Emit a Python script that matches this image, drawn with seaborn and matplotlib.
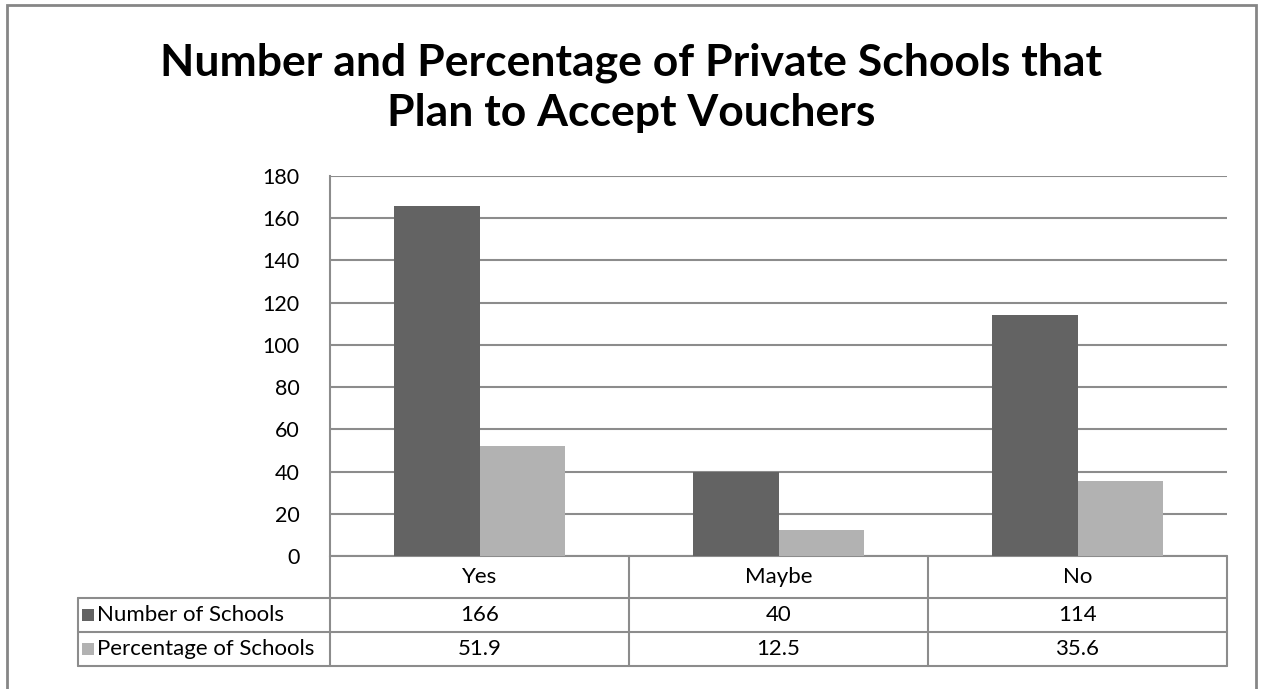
import pandas as pd
import matplotlib.pyplot as plt
import seaborn as sns
from matplotlib.patches import Rectangle

# Chart data
categories = ['Yes', 'Maybe', 'No']
series_names = ['Number of Schools', 'Percentage of Schools']
number_of_schools = [166, 40, 114]
percentage_of_schools = [51.9, 12.5, 35.6]
y_ticks = [0, 20, 40, 60, 80, 100, 120, 140, 160, 180]

colors = {'Number of Schools': '#636363', 'Percentage of Schools': '#b2b2b2'}
line_col = '#8c8c8c'

df = pd.DataFrame({
    'Category': categories * 2,
    'Series': [series_names[0]] * 3 + [series_names[1]] * 3,
    'Value': number_of_schools + percentage_of_schools,
})

sns.set_style('white')
plt.rcParams['font.family'] = ['Lato', 'DejaVu Sans']
plt.rcParams['text.color'] = 'black'

fig = plt.figure(figsize=(12.62, 6.89), dpi=100)
ax = fig.add_axes([330 / 1262, 1 - 556 / 689, 897 / 1262, 380 / 689])

sns.barplot(data=df, x='Category', y='Value', hue='Series', order=categories,
            hue_order=series_names, palette=colors, width=0.57, saturation=1,
            linewidth=0, ax=ax, legend=False, zorder=3)

ax.set_xlim(-0.5, 2.5)
ax.set_ylim(0, 180)
ax.set_yticks(y_ticks)
ax.tick_params(axis='y', length=0, labelsize=15.5, pad=22, labelcolor='black')
ax.set_xticks([])
ax.set_xlabel('')
ax.set_ylabel('')
ax.yaxis.grid(True, color=line_col, linewidth=1.5, zorder=0)
for s in ['top', 'right', 'bottom']:
    ax.spines[s].set_visible(False)
ax.spines['left'].set_color(line_col)
ax.spines['left'].set_linewidth(1.5)

# Data table under the plot (x in category units, y in axes fraction)
trans = ax.get_xaxis_transform()
left_x = -1.343
row_y = [0.0, -0.1105, -0.2, -0.2895]
kw = dict(color=line_col, linewidth=1.5, transform=trans, clip_on=False)
fs = 16

ax.plot([-0.5, 2.5], [row_y[0], row_y[0]], **kw)
for y in row_y[1:]:
    ax.plot([left_x, 2.5], [y, y], **kw)
ax.plot([left_x, left_x], [row_y[1], row_y[3]], **kw)
for xb in [-0.5, 0.5, 1.5, 2.5]:
    ax.plot([xb, xb], [row_y[0], row_y[3]], **kw)

for i, cat in enumerate(categories):
    ax.text(i, (row_y[0] + row_y[1]) / 2, cat, transform=trans, ha='center',
            va='center', fontsize=fs, color='black')
    ax.text(i, (row_y[1] + row_y[2]) / 2, f'{number_of_schools[i]}', transform=trans,
            ha='center', va='center', fontsize=fs, color='black')
    ax.text(i, (row_y[2] + row_y[3]) / 2, f'{percentage_of_schools[i]}', transform=trans,
            ha='center', va='center', fontsize=fs, color='black')

for j, name in enumerate(series_names):
    yc = (row_y[j + 1] + row_y[j + 2]) / 2
    ax.add_patch(Rectangle((left_x + 0.013, yc - 0.016), 0.04, 0.032,
                           facecolor=colors[name], edgecolor='none',
                           transform=trans, clip_on=False))
    ax.text(left_x + 0.063, yc, name, transform=trans, ha='left', va='center',
            fontsize=fs, color='black')

fig.text(0.5, 1 - 88 / 689, 'Number and Percentage of Private Schools that\nPlan to Accept Vouchers',
         ha='center', va='center', fontsize=32, fontweight='bold', linespacing=1.3,
         color='black')

# outer chart border (bottom edge falls off the picture)
fig.patches.append(Rectangle((7 / 1262, -0.05), 1249 / 1262, 1.05 - 5 / 689,
                             transform=fig.transFigure, fill=False,
                             edgecolor='#868686', linewidth=2))

plt.savefig('out.png', dpi=100)
